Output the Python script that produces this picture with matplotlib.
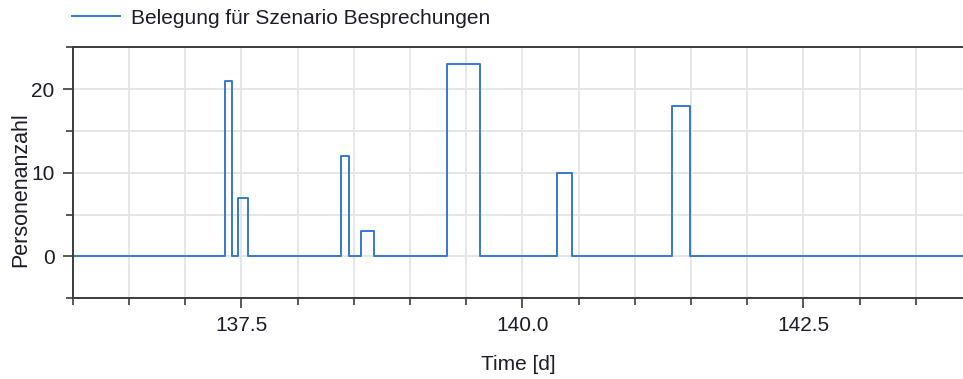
import numpy as np
import matplotlib
matplotlib.use("Agg")
import matplotlib.pyplot as plt
from matplotlib.ticker import MultipleLocator, FormatStrFormatter

# occupancy steps (time in days, number of persons, held until next time)
t = [136.0,
     137.354, 137.417, 137.469, 137.562,
     138.385, 138.458, 138.562, 138.677,
     139.333, 139.625,
     140.312, 140.440,
     141.333, 141.490,
     143.92]
persons = [0,
           21, 0, 7, 0,
           12, 0, 3, 0,
           23, 0,
           10, 0,
           18, 0,
           0]

series_name = "Belegung für Szenario Besprechungen"
xlabel = "Time [d]"
ylabel = "Personenanzahl"

plt.rcParams['font.family'] = ['Liberation Sans', 'DejaVu Sans']
txt = '#1c1c2a'

fig = plt.figure(figsize=(9.63, 3.79), dpi=100)
ax = fig.add_axes([72.7/963, 1-298.3/379, 1-72.7/963, (298.3-47.3)/379])

line, = ax.plot(t, persons, drawstyle='steps-post', color='#3478d4', lw=1.4)

ax.set_xlim(136.0, 143.92)
ax.set_ylim(-5, 25)

ax.xaxis.set_major_locator(MultipleLocator(2.5))
ax.xaxis.set_minor_locator(MultipleLocator(0.5))
ax.xaxis.set_major_formatter(FormatStrFormatter('%.1f'))
ax.yaxis.set_major_locator(MultipleLocator(10))
ax.yaxis.set_minor_locator(MultipleLocator(5))

ax.grid(True, which='both', color='#e4e4e4', lw=1.3)
ax.set_axisbelow(True)

for side in ['left', 'bottom', 'top']:
    ax.spines[side].set_color('#3c3c3c')
    ax.spines[side].set_linewidth(1.4)
ax.spines['right'].set_visible(False)

ax.tick_params(which='major', length=7, width=1.2, color='#3c3c3c',
               labelsize=15, labelcolor=txt, pad=6)
ax.tick_params(which='minor', length=5, width=1.2, color='#3c3c3c')
ax.tick_params(axis='x', which='both', top=False)

ax.set_xlabel(xlabel, fontsize=15, color=txt, labelpad=14)
fig.text(20.5/963, 0.5, ylabel, rotation=90, fontsize=15.5, color=txt,
         ha='center', va='center')

fig.legend([line], [series_name], loc='center left',
           bbox_to_anchor=(72/963, 1-18/379), frameon=False,
           fontsize=15, handlelength=2.3, handletextpad=0.55,
           borderpad=0, borderaxespad=0, labelcolor=txt)

fig.savefig('out.png', dpi=100)
